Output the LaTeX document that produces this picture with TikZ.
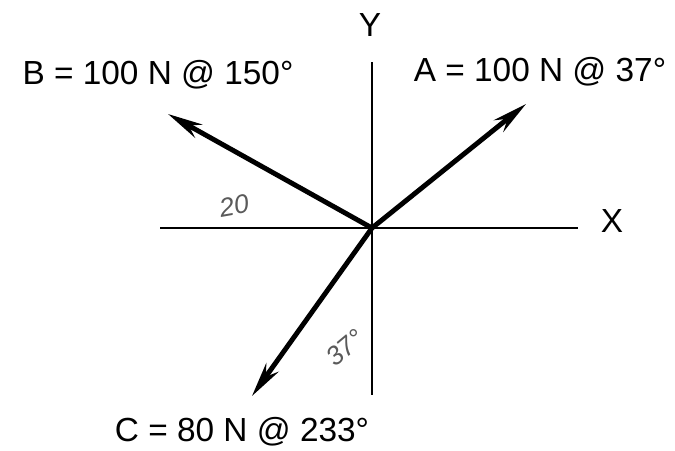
\documentclass[tikz,border=0pt]{standalone}
\usepackage{fontspec}
\setmainfont{Liberation Sans}
\usepackage{tikz}
\usetikzlibrary{positioning,arrows.meta,calc}
\definecolor{inkgray}{RGB}{90,90,90}
\tikzset{
  force/.style={line width=2.8pt,-{Stealth[length=0.7cm,width=0.3cm]}},
  axisline/.style={line width=0.8pt},
  hand/.style={font=\fontsize{15}{18}\selectfont\itshape,text=inkgray}
}

\begin{document}
\begin{tikzpicture}[x=.02cm,y=-.02cm,every node/.style={font=\fontsize{19}{22}\selectfont}]
    \useasboundingbox (0,0) rectangle (675,450);
    \coordinate (O) at (372,228);
    % axes
    \coordinate (xl) at (160,228);
    \coordinate (xr) at (578,228);
    \coordinate (yt) at (372,62);
    \coordinate (yb) at (372,395);
    \draw[axisline] (xl)--(xr);
    \draw[axisline] (yt)--(yb);
    \node (xlab) at (612,221) {X};
    \node (ylab) at (370,25) {Y};
    % forces
    \coordinate (tipA) at (526,104);
    \coordinate (tipB) at (168,114);
    \coordinate (tipC) at (252,396);
    \draw[force] (O)--(tipA);
    \draw[force] (O)--(tipB);
    \draw[force] (O)--(tipC);
    \node (labA) at (540,72) {A = 100 N @ 37°};
    \node (labB) at (158,75) {B = 100 N @ 150°};
    \node (labC) at (242,432) {C = 80 N @ 233°};
    % pencil notes
    \node[hand,rotate=10] (ang20) at (234,206) {20};
    \node[hand,rotate=40] (ang37) at (345,348) {37°};
  \end{tikzpicture}
\end{document}
